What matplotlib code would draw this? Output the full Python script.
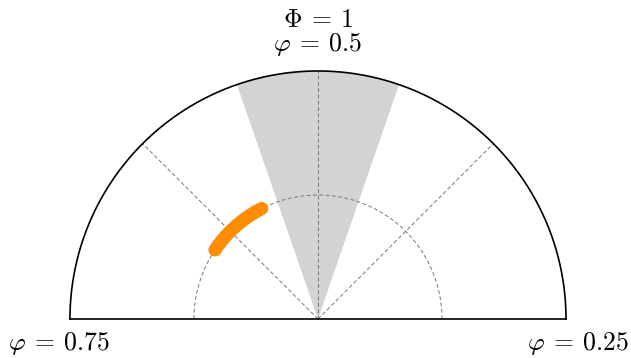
import numpy as np
import matplotlib
matplotlib.use("Agg")
import matplotlib.pyplot as plt
from matplotlib.patches import Wedge

plt.rcParams['mathtext.fontset'] = 'cm'

# phi -> angle: 0.25 right, 0.5 top, 0.75 left
label_phi = [0.25, 0.5, 0.75]
label_text = [r'$\varphi \:=\: 0.25$', r'$\varphi \:=\: 0.5$', r'$\varphi \:=\: 0.75$']
top_text = r'$\Phi \:=\: 1$'
grid_phi = [0.375, 0.5, 0.625]
inner_r = 0.5
wedge_phi = [0.447, 0.553]
arc_phi = [0.575, 0.656]
arc_r = 0.5

def ang(p):
    return np.deg2rad((np.asarray(p) - 0.25) * 360)

fig = plt.figure(figsize=(6.31, 3.58), dpi=100)
ax = fig.add_axes([0, 0, 1, 1])
ax.set_xlim(-1.282, 1.262)
ax.set_ylim(-0.157, 1.286)
ax.set_aspect('equal')
ax.axis('off')

# shaded sector
a0, a1 = np.rad2deg(ang(wedge_phi))
ax.add_patch(Wedge((0, 0), 1, a0, a1, facecolor='#d3d3d3', edgecolor='none', zorder=1))

# dashed guides
for p in grid_phi:
    t = ang(p)
    ax.plot([0, np.cos(t)], [0, np.sin(t)], color='#777777', lw=0.7, ls=(0, (4, 2.5)), zorder=2)
th = np.linspace(0, np.pi, 300)
ax.plot(inner_r*np.cos(th), inner_r*np.sin(th), color='#777777', lw=0.7, ls=(0, (4, 2.5)), zorder=2)

# outline
ax.plot(np.cos(th), np.sin(th), color='black', lw=1.2, zorder=3)
ax.plot([-1, 1], [0, 0], color='black', lw=1.2, zorder=3)

# orange arc
ta = np.linspace(ang(arc_phi[0]), ang(arc_phi[1]), 100)
ax.plot(arc_r*np.cos(ta), arc_r*np.sin(ta), color='#ff8c00', lw=9.5,
        solid_capstyle='round', zorder=4)

# labels
fs = 18.5
ax.text(1.255, -0.098, label_text[0], ha='right', va='center', fontsize=fs)
ax.text(-1.25, -0.098, label_text[2], ha='left', va='center', fontsize=fs)
ax.text(0, 1.105, label_text[1], ha='center', va='center', fontsize=fs)
ax.text(0, 1.206, top_text, ha='center', va='center', fontsize=fs)

fig.savefig('out.png', dpi=100)
